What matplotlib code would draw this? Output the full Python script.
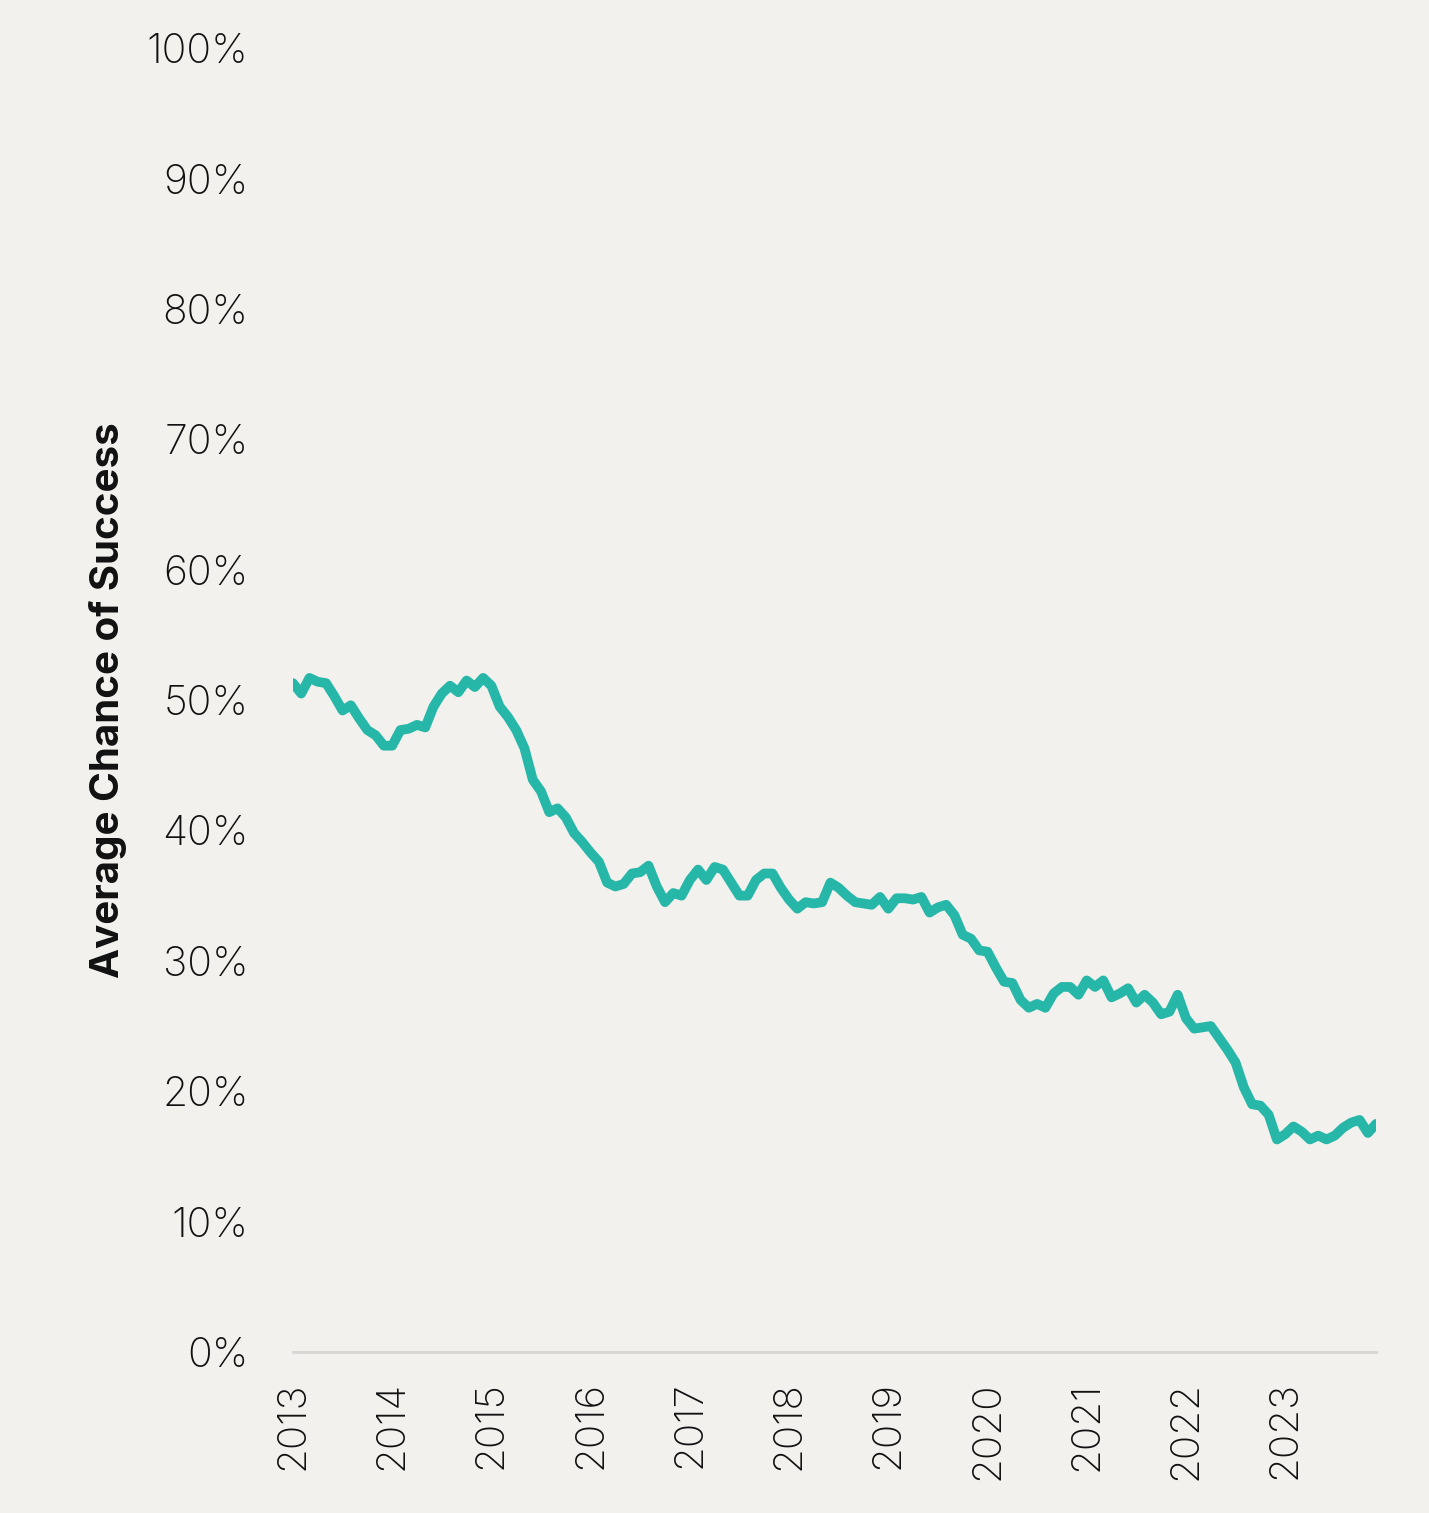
import matplotlib
matplotlib.use("Agg")
import matplotlib.pyplot as plt
import numpy as np

## data (monthly, Jan 2013 - Dec 2023)
years = list(range(2013, 2024))
success_pct = [
    51.3, 50.5, 51.7, 51.4, 51.3, 50.3, 49.2, 49.6, 48.6, 47.7, 47.3, 46.5,  # 2013
    46.5, 47.7, 47.8, 48.1, 47.9, 49.5, 50.5, 51.1, 50.6, 51.5, 51.0, 51.7,  # 2014
    51.1, 49.5, 48.7, 47.7, 46.3, 43.9, 43.0, 41.4, 41.7, 41.0, 39.8, 39.1,  # 2015
    38.3, 37.6, 36.0, 35.7, 35.9, 36.7, 36.8, 37.3, 35.7, 34.5, 35.2, 35.0,  # 2016
    36.2, 37.0, 36.2, 37.2, 37.0, 36.0, 35.0, 35.0, 36.2, 36.7, 36.7, 35.6,  # 2017
    34.7, 34.0, 34.5, 34.4, 34.5, 36.0, 35.6, 35.0, 34.5, 34.4, 34.3, 34.9,  # 2018
    34.0, 34.8, 34.8, 34.7, 34.9, 33.7, 34.1, 34.3, 33.5, 32.0, 31.7, 30.8,  # 2019
    30.7, 29.5, 28.4, 28.3, 27.0, 26.4, 26.7, 26.4, 27.5, 28.0, 28.0, 27.4,  # 2020
    28.5, 28.0, 28.5, 27.2, 27.5, 27.9, 26.8, 27.4, 26.8, 25.9, 26.1, 27.4,  # 2021
    25.6, 24.8, 24.9, 25.0, 24.1, 23.2, 22.2, 20.3, 19.0, 18.9, 18.2, 16.3,  # 2022
    16.7, 17.3, 16.9, 16.3, 16.6, 16.3, 16.6, 17.2, 17.6, 17.8, 16.8, 17.5,  # 2023
]
y_ticks = list(range(0, 101, 10))

## style
BG = "#f2f1ee"
LINE = "#26b7a8"
FONT = ["Inter", "DejaVu Sans"]
plt.rcParams['font.family'] = FONT

fig = plt.figure(figsize=(14.29, 15.13), dpi=100, facecolor=BG)
ax = fig.add_axes([0.205, 0.1064, 0.758, 0.8618])
ax.set_facecolor(BG)

months = np.arange(len(success_pct))
ax.plot(months, success_pct, color=LINE, lw=7, solid_joinstyle='round', solid_capstyle='round')

ax.set_xlim(0, len(success_pct) - 1)
ax.set_ylim(0, 100)
ax.set_xticks([12 * i for i in range(len(years))])
ax.set_xticklabels([str(y) for y in years], rotation=90, fontsize=29, fontweight='light')
ax.set_yticks(y_ticks)
ax.set_yticklabels([f"{v}%" for v in y_ticks], fontsize=29.5, fontweight='light')
ax.tick_params(axis='x', length=0, pad=21, colors='#111111')
ax.tick_params(axis='y', length=0, pad=32, colors='#111111')

for s in ['top', 'right', 'left']:
    ax.spines[s].set_visible(False)
ax.spines['bottom'].set_color('#d8d8d6')
ax.spines['bottom'].set_linewidth(2.2)

fig.text(0.0755, 0.537, "Average Chance of Success", rotation=90, fontsize=29,
         fontweight='bold', ha='center', va='center', color='#111111')

plt.savefig("out.png", dpi=100, facecolor=BG)
